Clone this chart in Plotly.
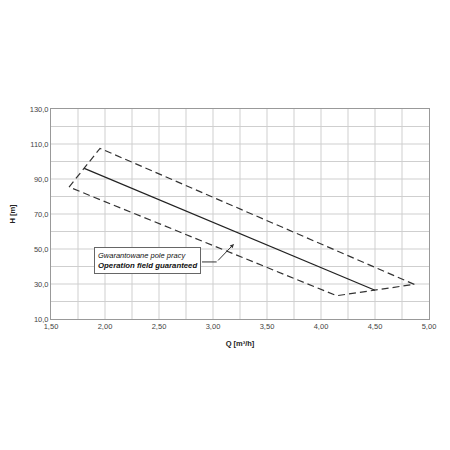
import plotly.graph_objects as go

# Data
field_q = [1.667, 1.954, 4.864, 4.145, 1.667]
field_h = [85.4, 107.5, 29.8, 23.3, 85.4]
curve_q = [1.808, 4.50]
curve_h = [96.1, 26.4]

x_tick_vals = [1.5, 2.0, 2.5, 3.0, 3.5, 4.0, 4.5, 5.0]
x_tick_text = ["1,50", "2,00", "2,50", "3,00", "3,50", "4,00", "4,50", "5,00"]
y_tick_vals = [10, 30, 50, 70, 90, 110, 130]
y_tick_text = ["10,0", "30,0", "50,0", "70,0", "90,0", "110,0", "130,0"]

fig = go.Figure()
fig.add_trace(go.Scatter(x=field_q, y=field_h, mode="lines",
                         line=dict(color="#333", width=1.2, dash="7px,4px"),
                         hoverinfo="skip", showlegend=False))
fig.add_trace(go.Scatter(x=curve_q, y=curve_h, mode="lines",
                         line=dict(color="#222", width=1.2),
                         hoverinfo="skip", showlegend=False))

font = "Liberation Sans, Arial, sans-serif"

fig.update_layout(
    width=450, height=450,
    margin=dict(l=43, r=29, t=101, b=139),
    paper_bgcolor="white", plot_bgcolor="white",
    font=dict(family=font, size=7, color="#444"),
    xaxis=dict(range=[1.5, 5.0], tickvals=x_tick_vals, ticktext=x_tick_text,
               showgrid=False, zeroline=False, showline=True, linecolor="#999",
               linewidth=1, mirror=True, ticks="", tickfont=dict(size=7.5, color="#444"),
               automargin=False,
               title=dict(text="<b>Q [m³/h]</b>", font=dict(size=7.5, color="#222"), standoff=10)),
    yaxis=dict(range=[10, 130], tickvals=y_tick_vals, ticktext=y_tick_text,
               showgrid=False, zeroline=False, showline=True, linecolor="#999",
               linewidth=1, mirror=True, ticks="", tickfont=dict(size=7.5, color="#444"),
               automargin=False,
               title=dict(text="<b>H [m]</b>", font=dict(size=7.5, color="#222"), standoff=17)),
)

# grid lines (every 0.25 on x, every 10 on y)
for i in range(1, 14):
    xv = 1.5 + 0.25 * i
    fig.add_shape(type="line", x0=xv, x1=xv, y0=10, y1=130, xref="x", yref="y",
                  line=dict(color="#cfcfcf", width=1), layer="below")
for i in range(1, 12):
    yv = 10 + 10 * i
    fig.add_shape(type="line", x0=1.5, x1=5.0, y0=yv, y1=yv, xref="x", yref="y",
                  line=dict(color="#cfcfcf", width=1), layer="below")

# annotation box
fig.add_annotation(x=2.389, y=43.3, xref="x", yref="y", showarrow=False,
                   text="<i><span style='font-size:7.5px'>Gwarantowane pole pracy</span></i><br><b><i>Operation field guaranteed</i></b>",
                   align="left", bgcolor="white", bordercolor="#666", borderwidth=1,
                   borderpad=3, font=dict(size=7.8, color="#111", family=font))
fig.add_shape(type="line", x0=2.898, x1=3.034, y0=42.6, y1=42.6, xref="x", yref="y",
              line=dict(color="#333", width=1))
fig.add_annotation(x=3.194, y=52.9, ax=3.034, ay=42.6, axref="x", ayref="y",
                   xref="x", yref="y", text="", showarrow=True, arrowhead=2,
                   arrowsize=0.8, arrowwidth=1, arrowcolor="#333")

fig.write_html("out.html")
